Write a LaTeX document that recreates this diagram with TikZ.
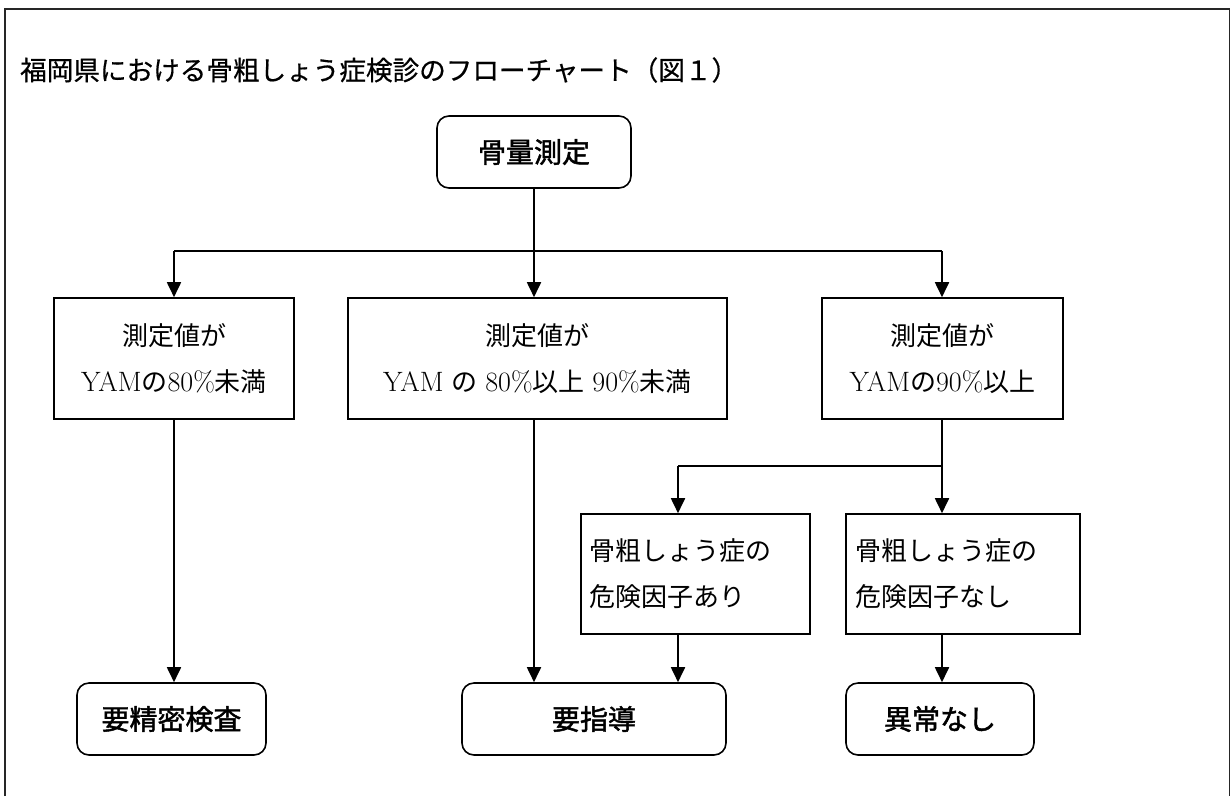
\documentclass[tikz,border=0pt]{standalone}
\usepackage{fontspec}
\usetikzlibrary{arrows.meta}
\newfontfamily\jp{Noto Sans CJK JP}
\newfontfamily\jpt[FakeBold=0.6]{Noto Sans CJK JP}
\newfontfamily\jpb[FakeBold=1.6]{Noto Sans CJK JP}
\newcommand{\J}[1]{{\jp #1}}
\newcommand{\Lt}[1]{{\fontsize{28}{46}\selectfont #1}}
\tikzset{
  rbox/.style={draw, line width=1.6pt, rounded corners=12pt, inner sep=0pt,
    font=\jpb\fontsize{28}{30}\selectfont},
  sbox/.style={draw, line width=1.6pt, inner sep=0pt, align=center,
    font=\fontsize{26}{46}\selectfont},
  lbox/.style={draw, line width=1.6pt, inner sep=0pt, align=left,
    font=\fontsize{26}{46}\selectfont},
  conn/.style={line width=1.8pt},
  arr/.style={line width=1.8pt, -{Triangle[length=15pt,width=14pt]}}
}
\begin{document}
\begin{tikzpicture}[x=1pt,y=-1pt]
\useasboundingbox (0,0) rectangle (1231,796);
% frame
\draw[line width=1.4pt, black!85] (5,796) -- (5,9) -- (1229.5,9) -- (1229.5,796);
% title
\node[anchor=west, inner sep=0pt, font=\jpt\fontsize{26.6}{28}\selectfont] (title) at (20,70)
  {福岡県における骨粗しょう症検診のフローチャート（図１）};
% nodes
\node[rbox, minimum width=194pt, minimum height=72pt] (top) at (534,152) {骨量測定};
\node[sbox, minimum width=240pt, minimum height=121pt] (A) at (174,358.5)
  {\J{測定値が}\\\Lt{YAM}\J{の}\Lt{80\%}\J{未満}};
\node[sbox, minimum width=379pt, minimum height=121pt] (B) at (537.5,358.5)
  {\J{測定値が}\\\Lt{YAM} \J{の} \Lt{80\%}\J{以上} \Lt{90\%}\J{未満}};
\node[sbox, minimum width=241pt, minimum height=121pt] (C) at (942.5,358.5)
  {\J{測定値が}\\\Lt{YAM}\J{の}\Lt{90\%}\J{以上}};
\node[lbox, minimum width=229pt, minimum height=120pt, text width=212pt] (D) at (695.5,574)
  {\J{骨粗しょう症の}\\\J{危険因子あり}};
\node[lbox, minimum width=234pt, minimum height=120pt, text width=216pt] (E) at (963,574)
  {\J{骨粗しょう症の}\\\J{危険因子なし}};
\node[rbox, minimum width=189pt, minimum height=72pt] (R1) at (171.5,719) {要精密検査};
\node[rbox, minimum width=264pt, minimum height=72pt] (R2) at (594,719) {要指導};
\node[rbox, minimum width=188pt, minimum height=72pt] (R3) at (940,719) {異常なし};
% junctions
\coordinate (j1) at (534,251);
\coordinate (jl) at (174,251);
\coordinate (jr) at (942,251);
\coordinate (j2) at (942,466);
\coordinate (j3) at (678,466);
% connectors
\draw[conn] (top.south -| j1) -- (j1);
\draw[conn] (jl) -- (jr);
\draw[arr] (jl) -- (jl |- A.north);
\draw[arr] (j1) -- (j1 |- B.north);
\draw[arr] (jr) -- (jr |- C.north);
\draw[conn] (jr |- C.south) -- (j2);
\draw[conn] (j3) -- (j2);
\draw[arr] (j3) -- (j3 |- D.north);
\draw[arr] (j2) -- (j2 |- E.north);
\draw[arr] (jl |- A.south) -- (jl |- R1.north);
\draw[arr] (j1 |- B.south) -- (j1 |- R2.north);
\draw[arr] (j3 |- D.south) -- (j3 |- R2.north);
\draw[arr] (j2 |- E.south) -- (j2 |- R3.north);
\end{tikzpicture}
\end{document}
